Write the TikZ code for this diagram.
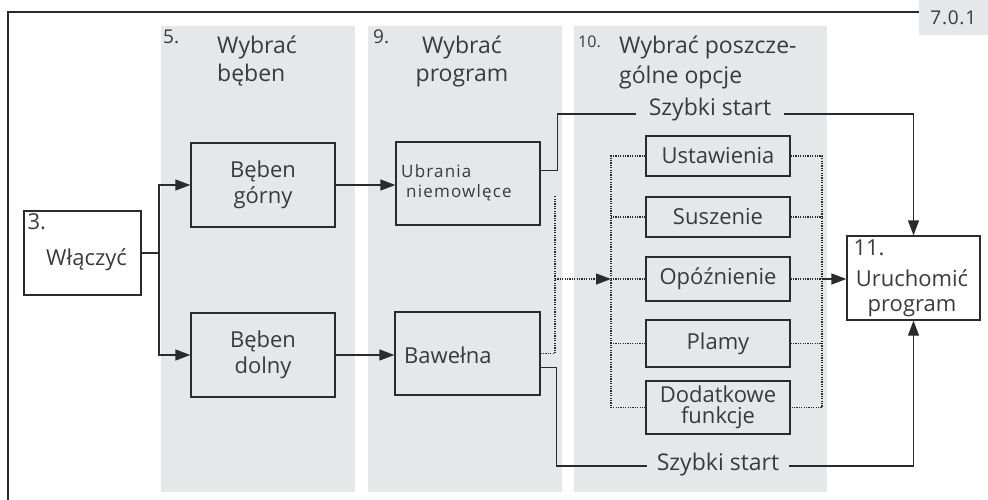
\documentclass[tikz,border=0pt]{standalone}
\usepackage{fontspec}
\setmainfont{Open Sans}
\usetikzlibrary{arrows.meta,positioning}
\definecolor{ink}{HTML}{2B2B2B}
\definecolor{txt}{HTML}{3A3A3A}
\definecolor{colfill}{HTML}{E6E7E9}
\tikzset{
  box/.style={draw=ink, line width=1.3pt, align=center, inner sep=0pt, text=txt, font=\fontsize{22}{25.5}\selectfont},
  label text/.style={text=txt, inner sep=0pt, font=\fontsize{22}{25.5}\selectfont},
  head/.style={text=txt, inner sep=0pt, align=left, font=\fontsize{23}{28.5}\selectfont},
  num/.style={text=txt, inner sep=0pt, font=\fontsize{19}{21}\selectfont},
  arrow/.style={-{Triangle[length=15pt,width=11pt]}, line width=1.3pt, draw=ink},
  line/.style={line width=1.3pt, draw=ink},
  bus/.style={dash pattern=on 1.2pt off 1.2pt, line width=1.2pt, draw=ink}
}

\begin{document}
\begin{tikzpicture}[x=1pt, y=-1pt]
  \useasboundingbox (0,0) rectangle (988,500);

  % columns and frame
  \fill[colfill] (161,26) rectangle (355,492);
  \fill[colfill] (368,26) rectangle (562,492);
  \fill[colfill] (574,26) rectangle (827,492);
  \draw[line] (8,500) -- (8,12) -- (919,12);
  \node[fill=colfill, minimum width=69pt, minimum height=35pt, anchor=north east, inner sep=0pt, text=txt,
        font=\fontsize{19}{21}\selectfont\addfontfeatures{LetterSpace=4}] (ver) at (988,0) {7.0.1};

  % headings
  \node[num, anchor=base west] (n5) at (163,44) {5.};
  \node[head, anchor=north west] (h5) at (217,35.5) {Wybrać\\bęben};
  \node[num, anchor=base west] (n9) at (373,44) {9.};
  \node[head, anchor=north, align=center] (h9) at (462,35.5) {Wybrać\\program};
  \node[num, anchor=base west, font=\fontsize{16}{18}\selectfont] (n10) at (578,48) {10.};
  \node[head, anchor=north west, font=\fontsize{23}{30}\selectfont] (h10) at (619,35.5) {Wybrać poszcze-\\gólne opcje};

  % boxes
  \node[box, minimum width=117pt, minimum height=84pt,
        label={[label text, anchor=base west, xshift=4pt, yshift=-19pt]north west:3.}] (wlacz) at (82.5,253) {};
  \node[label text, anchor=base west] (wltxt) at (46,265) {Włączyć};
  \node[box, minimum width=144pt, minimum height=84pt] (gorny) at (263,185) {Bęben\\górny};
  \node[box, minimum width=144pt, minimum height=84pt] (dolny) at (263,355) {Bęben\\dolny};
  \node[box, minimum width=144pt, minimum height=83pt] (ubrania) at (468,183.5) {};
  \node[head, anchor=north west, font=\fontsize{17}{20}\selectfont\addfontfeatures{LetterSpace=7}] (ubrtxt) at (401,164) {Ubrania\\\hspace*{5pt}niemowlęce};
  \node[box, minimum width=145pt, minimum height=83pt] (bawelna) at (467.5,353.5) {};
  \node[label text, anchor=base west] (bawtxt) at (404,363) {Bawełna};

  \node[box, minimum width=144pt, minimum height=40pt] (ustaw) at (718,156) {Ustawienia};
  \node[box, minimum width=144pt, minimum height=40pt] (susz) at (718,217) {Suszenie};
  \node[box, minimum width=144pt, minimum height=44pt] (opozn) at (718,279) {Opóźnienie};
  \node[box, minimum width=144pt, minimum height=47pt] (plamy) at (718,343.5) {Plamy};
  \node[box, minimum width=144pt, minimum height=53pt, font=\fontsize{22}{21}\selectfont] (dodat) at (718,407.5) {Dodatkowe\\funkcje};

  \node[box, minimum width=133pt, minimum height=84pt,
        label={[label text, anchor=base west, xshift=7pt, yshift=-20pt]north west:11.}] (uruch) at (913.5,278) {};
  \node[label text, align=center] (urtxt) at (912,293) {Uruchomić\\program};

  \node[head, anchor=base, inner xsep=13pt] (qtop) at (710,116) {Szybki start};
  \node[head, anchor=base, inner xsep=10pt] (qbot) at (718,470) {Szybki start};

  % connectors
  \coordinate (split) at (159,253);
  \draw[line] (wlacz.east) -- (split);
  \draw[arrow] (split) |- (gorny.west);
  \draw[arrow] (split) |- (dolny.west);
  \draw[arrow] (gorny.east) -- (gorny.east -| ubrania.west);
  \draw[arrow] (dolny.east) -- (dolny.east -| bawelna.west);

  \draw[line] ([yshift=13pt]ubrania.east) -- ++(17,0) |- ([yshift=2pt]qtop.base west);
  \draw[arrow] ([yshift=2pt]qtop.base east) -| (uruch.north);
  \draw[line] ([yshift=-14pt]bawelna.east) -- ++(16,0) |- ([yshift=4pt]qbot.base west);
  \draw[arrow] ([yshift=4pt]qbot.base east) -| (uruch.south);

  % dotted options
  \coordinate (dtop) at (555,196);
  \coordinate (lbus) at (611,156);
  \coordinate (rbus) at (822,156);
  \draw[bus] (bawelna.east) -| (dtop);
  \draw[bus] (ustaw.west) -- (lbus) |- (dodat.west);
  \draw[bus] (ustaw.east) -- (rbus) |- (dodat.east);
  \foreach \n in {susz,opozn,plamy} {
    \draw[bus] (\n.west) -- (\n.west -| lbus);
    \draw[bus] (\n.east) -- (\n.east -| rbus);
  }
  \draw[bus, -{Triangle[length=15pt,width=11pt]}] (dtop |- opozn.west) -- (opozn.west -| lbus);
  \draw[arrow] (opozn.east -| rbus) -- (opozn.east -| uruch.west);
\end{tikzpicture}
\end{document}
